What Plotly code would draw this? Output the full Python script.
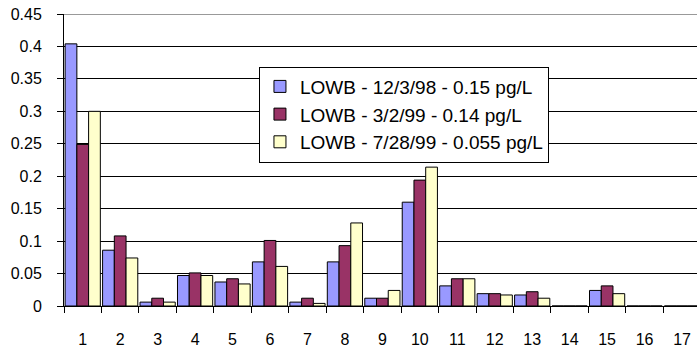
import plotly.graph_objects as go

categories = [str(i) for i in range(1, 18)]
series_names = [
    "LOWB - 12/3/98 - 0.15 pg/L",
    "LOWB - 3/2/99 - 0.14 pg/L",
    "LOWB - 7/28/99 - 0.055 pg/L",
]
s1 = [0.404, 0.086, 0.006, 0.047, 0.037, 0.068, 0.006, 0.068, 0.012, 0.160, 0.031, 0.019, 0.017, 0, 0.024, 0, 0]
s2 = [0.249, 0.108, 0.012, 0.051, 0.042, 0.101, 0.012, 0.093, 0.012, 0.194, 0.042, 0.019, 0.022, 0, 0.031, 0, 0]
s3 = [0.300, 0.074, 0.006, 0.047, 0.034, 0.061, 0.004, 0.128, 0.024, 0.214, 0.042, 0.017, 0.012, 0, 0.019, 0, 0]
colors = ["#9999FF", "#993366", "#FFFFCC"]

font_family = "Arial, Liberation Sans, sans-serif"

fig = go.Figure()
for i, (name, vals, col) in enumerate(zip(series_names, [s1, s2, s3], colors)):
    fig.add_trace(go.Bar(
        x=categories, y=vals, name=name,
        marker=dict(color=col, line=dict(color="black", width=1)),
    ))

fig.update_layout(
    width=697, height=349,
    margin=dict(l=64, r=0, t=14, b=43, autoexpand=False),
    paper_bgcolor="white", plot_bgcolor="white",
    barmode="group", bargap=0.06, bargroupgap=0,
    font=dict(family=font_family, size=16, color="black"),
    showlegend=True,
    legend=dict(
        x=0.308, y=0.82, xanchor="left", yanchor="top",
        bgcolor="white", bordercolor="black", borderwidth=1,
        font=dict(size=19, family=font_family, color="black"),
        itemwidth=30,
    ),
    xaxis=dict(
        type="category", range=[-0.5, 16.4], automargin=False,
        showline=True, linecolor="black", linewidth=1,
        ticks="outside", tickson="boundaries", ticklen=6, tickcolor="black",
        ticklabelstandoff=19, showgrid=False, zeroline=False,
        fixedrange=True,
    ),
    yaxis=dict(
        range=[0, 0.45], dtick=0.05, tick0=0, automargin=False,
        showline=True, linecolor="black", linewidth=1,
        ticks="outside", ticklen=6, tickcolor="black",
        ticklabelstandoff=12,
        showgrid=True, gridcolor="black", gridwidth=1, zeroline=False,
        fixedrange=True,
    ),
    shapes=[dict(type="line", xref="paper", yref="y", x0=0, x1=1, y0=0.45, y1=0.45,
                 line=dict(color="#999999", width=2), layer="above")],
)

fig.write_html(
    "out.html",
    config={"displayModeBar": False, "staticPlot": True},
    post_script="document.body.style.margin='0';document.body.style.overflow='hidden';",
)
